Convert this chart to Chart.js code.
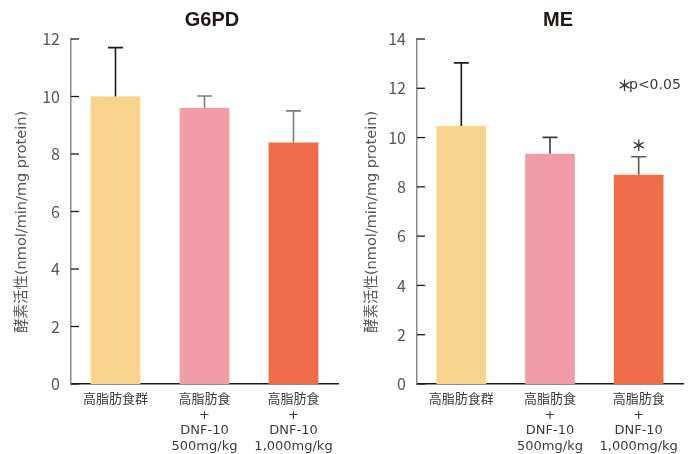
<!DOCTYPE html>
<html lang="ja">
<head>
  <meta charset="UTF-8" />
  <title>G6PD / ME</title>
  <script src="https://cdn.jsdelivr.net/npm/chart.js"></script>
  <style>
    body { margin: 0; background: #fff; }
    .panel { position: absolute; top: 0; width: 348px; height: 454px; }
    #left { left: 0; }
    #right { left: 348px; }
  </style>
</head>
<body>
  <div class="panel" id="left"><canvas id="g6pd"></canvas></div>
  <div class="panel" id="right"><canvas id="me"></canvas></div>

  <script>
    // data
    const groups = [
      ["高脂肪食群"],
      ["高脂肪食", "+", "DNF-10", "500mg/kg"],
      ["高脂肪食", "+", "DNF-10", "1,000mg/kg"]
    ];
    const barColors = ["#FAD48C", "#F29CA7", "#EE6C48"];

    const g6pdMean = [10.0, 9.6, 8.4];
    const g6pdSD = [1.7, 0.42, 1.1];
    const g6pdTicks = [0, 2, 4, 6, 8, 10, 12];

    const meMean = [10.47, 9.34, 8.49];
    const meSD = [2.56, 0.67, 0.73];
    const meTicks = [0, 2, 4, 6, 8, 10, 12, 14];
    const meSignificant = [false, false, true];

    const yTitle = "酵素活性(nmol/min/mg protein)";
    const textGray = "#595757";
    const jpFont = "'Noto Sans CJK JP', 'Noto Sans', sans-serif";
    const mixFont = "'DejaVu Sans', 'Noto Sans CJK JP', sans-serif";

    // error bars, inner tick marks and texts
    const extras = {
      id: "extras",
      afterDatasetsDraw(chart, args, opts) {
        const ctx = chart.ctx;
        const y = chart.scales.y;
        const meta = chart.getDatasetMeta(0);
        ctx.save();
        // error bars
        meta.data.forEach((bar, i) => {
          const top = y.getPixelForValue(opts.mean[i] + opts.sd[i]);
          const base = y.getPixelForValue(opts.mean[i]);
          ctx.strokeStyle = opts.errColors[i];
          ctx.lineWidth = 1.6;
          ctx.beginPath();
          ctx.moveTo(bar.x, base);
          ctx.lineTo(bar.x, top);
          ctx.moveTo(bar.x - 7.5, top);
          ctx.lineTo(bar.x + 7.5, top);
          ctx.stroke();
          if (opts.sig && opts.sig[i]) {
            ctx.fillStyle = "#3e3a39";
            ctx.font = "bold 15px " + jpFont;
            ctx.textAlign = "center";
            ctx.textBaseline = "middle";
            ctx.fillText("＊", bar.x, top - 11);
          }
        });
        // tick marks pointing into the plot
        ctx.strokeStyle = "#231815";
        ctx.lineWidth = 1.3;
        y.ticks.forEach(t => {
          const py = y.getPixelForValue(t.value);
          ctx.beginPath();
          ctx.moveTo(chart.chartArea.left, py);
          ctx.lineTo(chart.chartArea.left + 8, py);
          ctx.stroke();
        });
        ctx.restore();
      },
      afterDraw(chart, args, opts) {
        const ctx = chart.ctx;
        ctx.save();
        ctx.fillStyle = "#231815";
        ctx.font = "bold 20px 'Liberation Sans', Arial, sans-serif";
        ctx.textAlign = "center";
        ctx.textBaseline = "middle";
        ctx.fillText(opts.title, opts.titleX, 20);

        ctx.translate(opts.yTitleX, 222);
        ctx.rotate(-Math.PI / 2);
        ctx.fillStyle = textGray;
        ctx.font = "14.5px " + mixFont;
        ctx.fillText(yTitle, 0, 0);
        ctx.restore();

        if (opts.note) {
          ctx.save();
          ctx.fillStyle = "#3e3a39";
          ctx.textAlign = "left";
          ctx.textBaseline = "middle";
          ctx.font = "bold 15px " + jpFont;
          const star = ctx.measureText("＊").width;
          ctx.fillText("＊", opts.noteX - 3, 85);
          ctx.font = "14px " + mixFont;
          ctx.fillText(opts.note, opts.noteX - 3 + star - 3, 85);
          ctx.restore();
        }
      }
    };

    function makeChart(id, mean, sd, ticks, yWidth, padRight, extraOpts) {
      return new Chart(document.getElementById(id), {
        type: "bar",
        data: {
          labels: groups,
          datasets: [{
            data: mean,
            backgroundColor: barColors,
            borderWidth: 0,
            barPercentage: 0.56,
            categoryPercentage: 1
          }]
        },
        options: {
          responsive: true,
          maintainAspectRatio: false,
          animation: false,
          layout: { padding: { top: 39, right: padRight, left: 0, bottom: 0 } },
          plugins: {
            legend: { display: false },
            tooltip: { enabled: false },
            extras: Object.assign({ mean, sd }, extraOpts)
          },
          scales: {
            x: {
              grid: { display: false, drawTicks: false },
              border: { color: "#231815", width: 1.5 },
              ticks: {
                color: "#3e3a39",
                padding: 8,
                maxRotation: 0,
                autoSkip: false,
                font: { family: mixFont, size: 13, lineHeight: 1.2 }
              },
              afterFit: s => { s.height = 70; }
            },
            y: {
              min: 0,
              max: ticks[ticks.length - 1],
              afterBuildTicks: s => { s.ticks = ticks.map(v => ({ value: v })); },
              grid: { display: false, drawTicks: false },
              border: { color: "#898989", width: 1.5 },
              ticks: {
                color: textGray,
                padding: 11,
                font: { family: jpFont, size: 16 }
              },
              afterFit: s => { s.width = yWidth; }
            }
          }
        },
        plugins: [extras]
      });
    }

    makeChart("g6pd", g6pdMean, g6pdSD, g6pdTicks, 71, 10, {
      title: "G6PD", titleX: 212, yTitleX: 22,
      errColors: ["#231815", "#7f7b7a", "#7f7b7a"]
    });

    makeChart("me", meMean, meSD, meTicks, 69, 13, {
      title: "ME", titleX: 210, yTitleX: 24,
      errColors: ["#231815", "#3e3a39", "#595757"],
      sig: meSignificant,
      note: "p<0.05", noteX: 272
    });
  </script>
</body>
</html>
